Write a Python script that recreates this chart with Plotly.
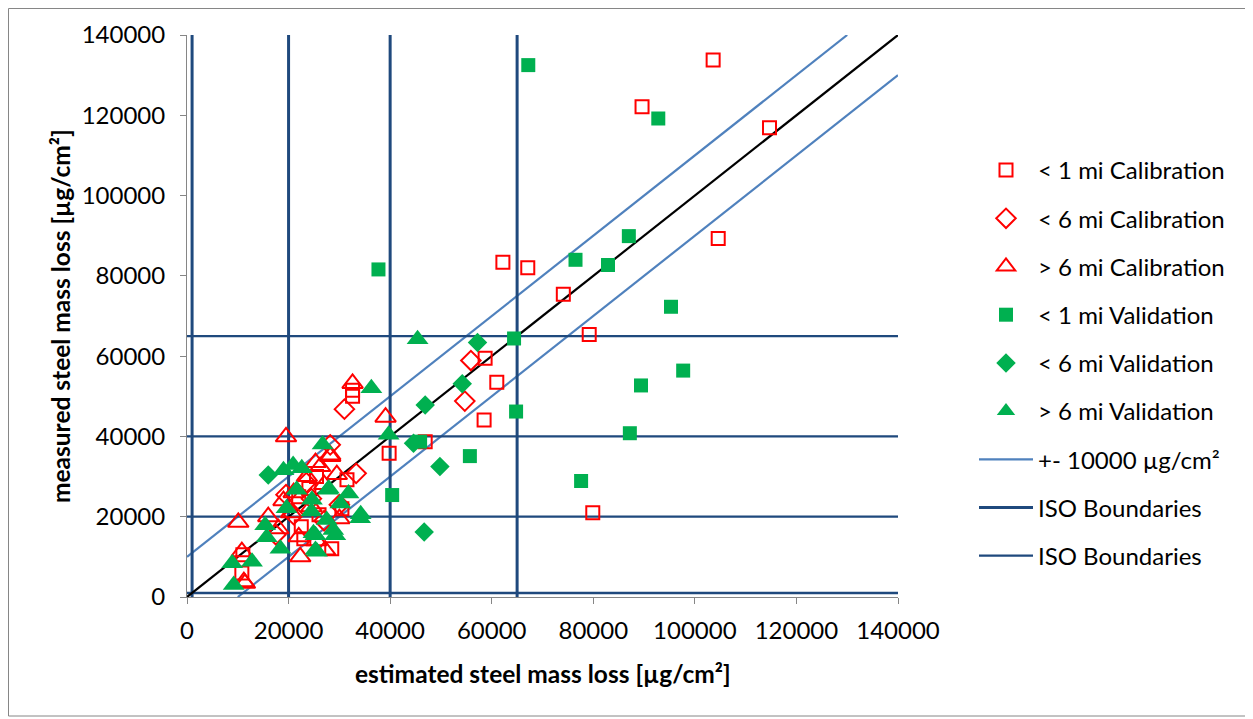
import plotly.graph_objects as go

# ---------------- data ----------------
cal1_x = [62200, 67100, 74100, 79200, 58700, 61000, 58500, 46900, 39800, 79900,
          103600, 89600, 114700, 104600, 32600, 32600, 31500, 25500, 24000, 30500,
          22500, 23000, 28500, 10800, 11000, 26000, 22000]
cal1_y = [83400, 82000, 75400, 65400, 59500, 53500, 44100, 38700, 35800, 21000,
          133800, 122100, 116900, 89300, 51500, 50000, 29200, 30000, 27000, 22000,
          17500, 14500, 12000, 6000, 10500, 20500, 25000]

cal6_x = [55900, 54700, 31000, 28200, 33300, 24500, 21000, 17500, 27000, 19500, 23500, 30000]
cal6_y = [58900, 48800, 46800, 37900, 30800, 24500, 20500, 15500, 19000, 25500, 28500, 23000]

cal6p_x = [32600, 39100, 19500, 28200, 10100, 11400, 22300, 27200, 25300, 26200,
           28200, 23600, 10800, 11200, 21000, 19000, 24500, 27000, 29500, 18000,
           22000, 25500, 30000, 16000, 20500]
cal6p_y = [53200, 44800, 39900, 35400, 18600, 3400, 10000, 11700, 33500, 32500,
           35000, 30000, 11300, 3800, 26000, 24000, 22500, 28000, 30500, 17000,
           15000, 14000, 19500, 20000, 21000]

val1_x = [37700, 76500, 82900, 95300, 64400, 97700, 89400, 64800, 87200, 55700,
          77600, 40400, 67200, 92800, 87000, 45900]
val1_y = [81600, 84000, 82700, 72300, 64400, 56400, 52700, 46200, 40800, 35100,
          28900, 25400, 132500, 119200, 89900, 38700]

val6_x = [57200, 54200, 46900, 44600, 49800, 46700, 16000]
val6_y = [63400, 53100, 47800, 38300, 32500, 16200, 30400]

val6p_x = [45400, 36300, 26700, 39700, 19000, 20900, 22600, 21600, 27800, 31800,
           24600, 30200, 34200, 19600, 24500, 27500, 15400, 28800, 24900, 15700,
           18400, 25300, 8900, 12800, 9200, 25300, 29200, 25600, 34100, 27900]
val6p_y = [64200, 52000, 38000, 40400, 31600, 32900, 32100, 26700, 26700, 25800,
           24200, 23300, 20600, 22100, 21300, 19200, 17900, 16700, 15900, 14900,
           12000, 11700, 8400, 8800, 3000, 15400, 15400, 11300, 19600, 27000]

iso_bounds = [1000, 20000, 40000, 65000]
band = 10000
axis_max = 140000
tick_vals = [0, 20000, 40000, 60000, 80000, 100000, 120000, 140000]

# ---------------- styling ----------------
RED = "#FF0000"
GREEN = "#00B050"
BAND = "#4F81BD"
ISO = "#1F497D"
FONT = "Lato"
FS_TICK = 24
FS_LEG = 24
FS_TITLE = 24.5

fig = go.Figure()

# band lines
bx = [0, axis_max - band, None, band, axis_max]
by = [band, axis_max, None, 0, axis_max - band]
fig.add_trace(go.Scatter(x=bx, y=by, mode="lines", name="+- 10000 µg/cm²",
                         line=dict(color=BAND, width=2.2), legendgroup="band",
                         legendrank=7, hoverinfo="skip"))

# ISO boundaries (vertical)
vx, vy = [], []
for b in iso_bounds:
    vx += [b, b, None]
    vy += [0, axis_max, None]
fig.add_trace(go.Scatter(x=vx, y=vy, mode="lines", name="ISO Boundaries",
                         line=dict(color=ISO, width=3), legendgroup="iso_v",
                         legendrank=8, hoverinfo="skip"))
# ISO boundaries (horizontal)
hx, hy = [], []
for b in iso_bounds:
    hx += [0, axis_max, None]
    hy += [b, b, None]
fig.add_trace(go.Scatter(x=hx, y=hy, mode="lines", name="ISO Boundaries",
                         line=dict(color=ISO, width=2.3), legendgroup="iso_h",
                         legendrank=9, hoverinfo="skip"))

# 1:1 line (no legend)
fig.add_trace(go.Scatter(x=[0, axis_max], y=[0, axis_max], mode="lines",
                         line=dict(color="black", width=2.2), showlegend=False,
                         hoverinfo="skip"))

# marker series
def add_markers(name, xs, ys, symbol, color, size, rank, open_=False):
    if open_:
        marker = dict(symbol=symbol + "-open", size=size, color=color,
                      line=dict(color=color, width=2))
    else:
        marker = dict(symbol=symbol, size=size, color=color,
                      line=dict(color=color, width=0))
    fig.add_trace(go.Scatter(x=xs, y=ys, mode="markers", name=name, marker=marker,
                             legendgroup=name, legendrank=rank, cliponaxis=False))

add_markers("< 1 mi Calibration", cal1_x, cal1_y, "square", RED, 13, 1, True)
add_markers("< 6 mi Calibration", cal6_x, cal6_y, "diamond", RED, 15, 2, True)
add_markers("> 6 mi Calibration", cal6p_x, cal6p_y, "triangle-up", RED, 18, 3, True)
add_markers("< 1 mi Validation", val1_x, val1_y, "square", GREEN, 14, 4)
add_markers("< 6 mi Validation", val6_x, val6_y, "diamond", GREEN, 15, 5)
add_markers("> 6 mi Validation", val6p_x, val6p_y, "triangle-up", GREEN, 19, 6)

# ---------------- layout ----------------
W, H = 1253, 719
OFF = 8                      # page body margin
PL, PR, PT, PB = 187, 898, 35, 597   # target plot area on screen
L = PL - OFF
T = PT - OFF
R = W - (PR - OFF)
B = H - (PB - OFF)

def px2x(p):
    return (p - PL) / (PR - PL)

def py2y(p):
    return (PB - p) / (PB - PT)

axis_common = dict(range=[0, axis_max], tickvals=tick_vals, showgrid=False,
                   zeroline=False, showline=True, linecolor="#868686", linewidth=1,
                   ticks="outside", ticklen=6, tickcolor="#868686",
                   tickfont=dict(family=FONT, size=FS_TICK, color="black"),
                   tickformat="d", fixedrange=True)

fig.update_layout(
    width=W, height=H,
    margin=dict(l=L, r=R, t=T, b=B, pad=0),
    paper_bgcolor="white", plot_bgcolor="white",
    font=dict(family=FONT, size=FS_LEG, color="black"),
    xaxis=dict(**axis_common, ticklabelstandoff=6),
    yaxis=dict(**axis_common, ticklabelstandoff=10),
    legend=dict(x=px2x(974), y=py2y(148), xanchor="left", yanchor="top",
                font=dict(family=FONT, size=FS_LEG, color="black"),
                traceorder="grouped", tracegroupgap=14, itemwidth=54,
                bgcolor="rgba(0,0,0,0)"),
    showlegend=True,
)

# axis titles
fig.add_annotation(text="<b>estimated steel mass loss [µg/cm²]</b>", xref="paper", yref="paper",
                   x=px2x(543), y=py2y(673), xanchor="center", yanchor="middle",
                   showarrow=False, font=dict(family=FONT, size=FS_TITLE, color="black"))
fig.add_annotation(text="<b>measured steel mass loss [µg/cm²]</b>", xref="paper", yref="paper",
                   x=px2x(60), y=py2y(316), xanchor="center", yanchor="middle",
                   showarrow=False, textangle=-90,
                   font=dict(family=FONT, size=FS_TITLE, color="black"))

# outer border
fig.add_shape(type="rect", xref="paper", yref="paper",
              x0=px2x(8.5), x1=px2x(1246), y0=py2y(716), y1=py2y(8.5),
              line=dict(color="#868686", width=1), fillcolor="rgba(0,0,0,0)", layer="below")

fig.write_html("out.html")
